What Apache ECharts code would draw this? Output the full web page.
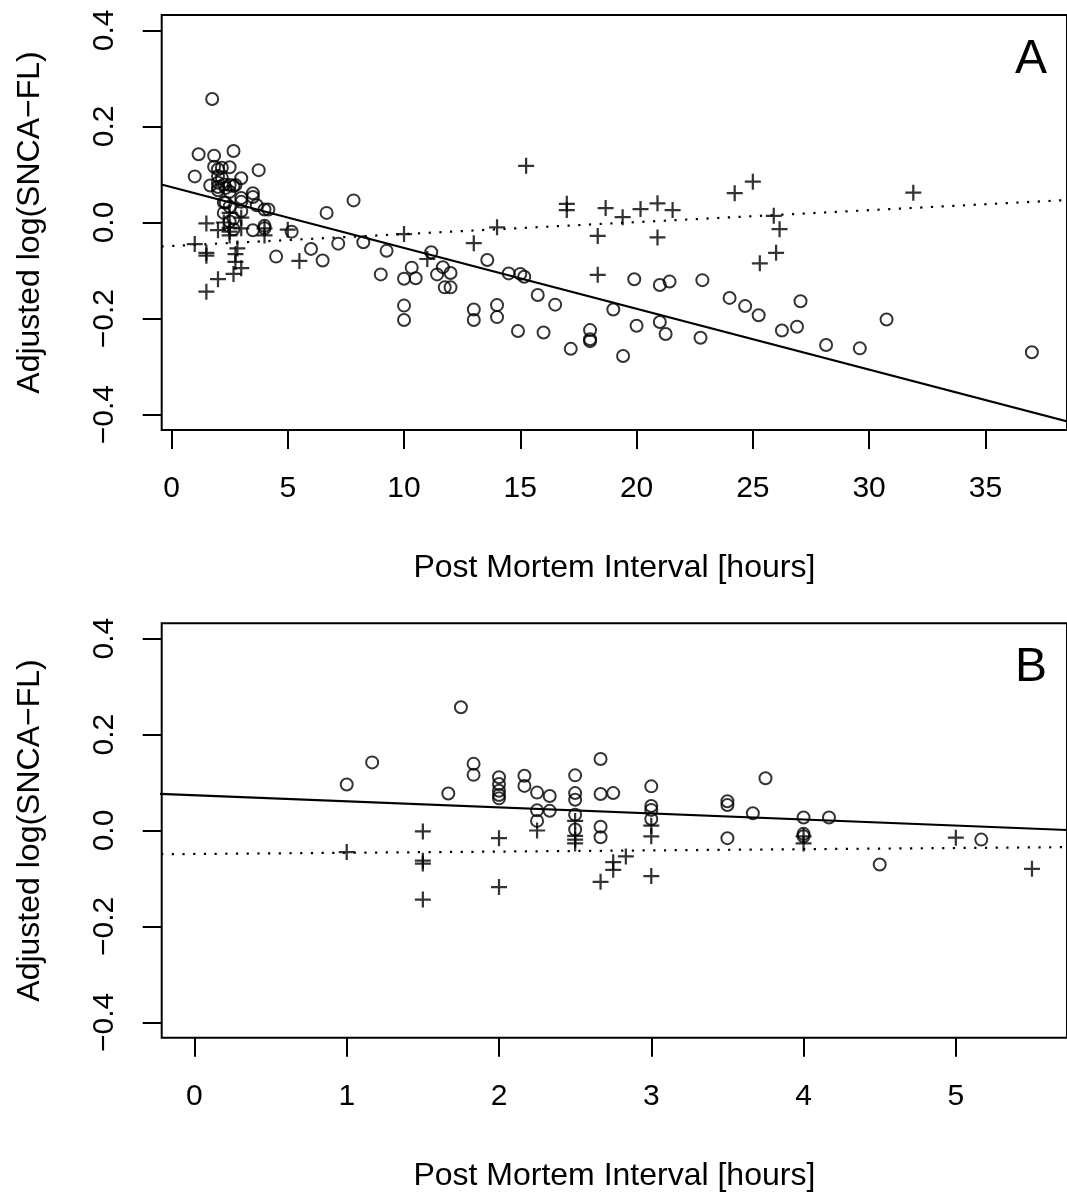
<!DOCTYPE html>
<html><head><meta charset="utf-8">
<script src="https://cdn.jsdelivr.net/npm/echarts@6/dist/echarts.min.js"></script>
<style>html,body{margin:0;padding:0;background:#fff}#c{width:1067px;height:1194px}</style>
</head><body><div id="c"></div>
<script>
// ---- data ----
const xTicksA = [0, 5, 10, 15, 20, 25, 30, 35];
const xTicksB = [0, 1, 2, 3, 4, 5];
const yTicks = [-0.4, -0.2, 0, 0.2, 0.4];
const panelLabels = ['A', 'B'];
const xTitle = 'Post Mortem Interval [hours]';
const yTitle = 'Adjusted log(SNCA\u2212FL)';

// group shown with open circles: [PMI hours, adjusted log value]
const circlePoints = [
  [1.0, 0.096], [1.167, 0.142], [1.667, 0.077], [1.75, 0.257], [1.833, 0.139], [1.833, 0.116],
  [2.0, 0.111], [2.0, 0.097], [2.0, 0.083], [2.0, 0.074], [2.0, 0.067],
  [2.167, 0.114], [2.167, 0.093],
  [2.25, 0.079], [2.25, 0.042], [2.25, 0.020],
  [2.333, 0.072], [2.333, 0.041],
  [2.5, 0.115], [2.5, 0.078], [2.5, 0.064], [2.5, 0.033], [2.5, 0.002],
  [2.667, 0.149], [2.667, 0.076], [2.667, 0.008], [2.667, -0.014],
  [2.75, 0.078],
  [3.0, 0.092], [3.0, 0.051], [3.0, 0.043], [3.0, 0.024],
  [3.5, 0.061], [3.5, 0.053], [3.5, -0.016],
  [3.667, 0.036], [3.75, 0.109],
  [4.0, 0.027], [4.0, -0.007], [4.0, -0.012],
  [4.167, 0.027], [4.5, -0.071], [5.167, -0.019],
  [6.0, -0.055], [6.5, -0.079], [6.67, 0.020], [7.17, -0.044], [7.83, 0.046], [8.25, -0.041],
  [9.0, -0.108], [9.25, -0.059], [10.0, -0.117], [10.0, -0.173], [10.0, -0.203], [10.33, -0.094],
  [10.5, -0.116], [11.17, -0.062], [11.42, -0.108], [11.67, -0.093], [11.75, -0.135], [12.0, -0.105],
  [12.0, -0.135], [13.0, -0.181], [13.0, -0.203], [13.58, -0.078], [14.0, -0.172], [14.0, -0.197],
  [14.5, -0.106], [15.0, -0.107], [15.17, -0.113], [14.9, -0.226], [15.75, -0.151], [16.0, -0.229],
  [16.5, -0.171], [17.17, -0.263], [18.0, -0.224], [18.0, -0.243], [18.0, -0.247], [19.0, -0.181],
  [19.42, -0.278], [19.9, -0.118], [20.0, -0.215], [21.0, -0.130], [21.42, -0.123], [21.0, -0.207],
  [21.25, -0.232], [22.83, -0.120], [22.75, -0.240], [24.0, -0.157], [24.67, -0.174], [25.25, -0.193],
  [26.25, -0.225], [26.9, -0.217], [27.05, -0.164], [28.15, -0.255], [29.6, -0.262], [30.75, -0.202],
  [37.0, -0.270]
];

// group shown with plus signs
const plusPoints = [
  [1.0, -0.045], [1.5, -0.002], [1.5, -0.063], [1.5, -0.069], [1.5, -0.144],
  [2.0, -0.016], [2.0, -0.118], [2.25, 0.0],
  [2.5, 0.020], [2.5, -0.011], [2.5, -0.019], [2.5, -0.027],
  [2.667, -0.107], [2.75, -0.066], [2.75, -0.082], [2.833, -0.054],
  [3.0, 0.010], [3.0, -0.012], [3.0, -0.095],
  [4.0, -0.012], [4.0, -0.027], [5.0, -0.015], [5.5, -0.080],
  [10.0, -0.024], [11.0, -0.076], [13.0, -0.043], [14.0, -0.010], [15.25, 0.118], [17.0, 0.039],
  [17.0, 0.026], [18.67, 0.030], [18.33, -0.028], [18.33, -0.109], [19.4, 0.011], [20.17, 0.028],
  [20.9, 0.040], [20.9, -0.031], [21.55, 0.026], [24.22, 0.061], [25.0, 0.085], [25.9, 0.014],
  [26.15, -0.014], [26.0, -0.063], [25.3, -0.085], [31.9, 0.062]
];

// fitted lines (end points)
const circleFit = [[-0.43, 0.079], [38.6, -0.415]];
const plusFit = [[-0.43, -0.050], [38.6, 0.047]];

// ---- chart ----
const FONT = "'Liberation Sans', Arial, Helvetica, sans-serif";
const chart = echarts.init(document.getElementById('c'), null, {renderer: 'canvas'});

const fmtY = v => (v < 0 ? '\u2212' : '') + Math.abs(v).toFixed(1);
const fmtX = v => String(v);

function xAxisCfg(gi, ticks, min, max) {
  return {
    gridIndex: gi, type: 'value', min: min, max: max,
    axisLine: {show: false, onZero: false},
    splitLine: {show: false},
    axisTick: {show: true, inside: false, length: 19, customValues: ticks, lineStyle: {color: '#000', width: 2}},
    axisLabel: {customValues: ticks, formatter: fmtX, margin: 44, fontSize: 30, color: '#000', fontFamily: FONT},
    name: xTitle, nameLocation: 'middle', nameGap: 122,
    nameTextStyle: {fontSize: 32, color: '#000', fontFamily: FONT}
  };
}
function yAxisCfg(gi) {
  return {
    gridIndex: gi, type: 'value', min: -0.432, max: 0.432,
    axisLine: {show: false, onZero: false},
    splitLine: {show: false},
    axisTick: {show: true, inside: false, length: 19, customValues: yTicks, lineStyle: {color: '#000', width: 2}},
    axisLabel: {customValues: yTicks, formatter: fmtY, rotate: 90, margin: 42, fontSize: 30, color: '#000', fontFamily: FONT},
    name: yTitle, nameLocation: 'middle', nameGap: 116, nameRotate: 90,
    nameTextStyle: {fontSize: 32, color: '#000', fontFamily: FONT}
  };
}

const circleStyle = {color: 'rgba(0,0,0,0)', borderColor: '#000', borderWidth: 2};
const plusSymbol = 'path://M0,4.3H10V5.7H0Z M4.3,0H5.7V10H4.3Z';

function panelSeries(gi, xmax) {
  const circ = circlePoints.filter(p => p[0] <= xmax);
  const plus = plusPoints.filter(p => p[0] <= xmax);
  return [
    {type: 'scatter', xAxisIndex: gi, yAxisIndex: gi, data: circ, symbol: 'circle', symbolSize: 12,
     itemStyle: circleStyle, silent: true, z: 3},
    {type: 'scatter', xAxisIndex: gi, yAxisIndex: gi, data: plus, symbol: plusSymbol, symbolSize: 16,
     itemStyle: {color: '#000'}, silent: true, z: 3},
    {type: 'line', xAxisIndex: gi, yAxisIndex: gi, data: circleFit, symbol: 'none', clip: true,
     lineStyle: {color: '#000', width: 2.2}, silent: true, z: 2},
    {type: 'line', xAxisIndex: gi, yAxisIndex: gi, data: plusFit, symbol: 'none', clip: true,
     lineStyle: {color: '#000', width: 2.2, type: [2.2, 8.5]}, silent: true, z: 2}
  ];
}

const xA = [-0.421, 38.51];
const xB = [-0.215, 5.73];

chart.setOption({
  animation: false,
  backgroundColor: '#fff',
  grid: [
    {left: 161.7, top: 15, width: 915.3, height: 415, show: true, borderColor: '#000', borderWidth: 2, backgroundColor: 'transparent'},
    {left: 161.7, top: 623.3, width: 915.3, height: 414.4, show: true, borderColor: '#000', borderWidth: 2, backgroundColor: 'transparent'}
  ],
  xAxis: [xAxisCfg(0, xTicksA, xA[0], xA[1]), xAxisCfg(1, xTicksB, xB[0], xB[1])],
  yAxis: [yAxisCfg(0), yAxisCfg(1)],
  graphic: [
    {type: 'text', x: 1031, y: 60, style: {text: panelLabels[0], fontSize: 48, fontFamily: FONT, fill: '#000',
      align: 'center', verticalAlign: 'middle', textAlign: 'center', textVerticalAlign: 'middle'}},
    {type: 'text', x: 1031, y: 668, style: {text: panelLabels[1], fontSize: 48, fontFamily: FONT, fill: '#000',
      align: 'center', verticalAlign: 'middle', textAlign: 'center', textVerticalAlign: 'middle'}}
  ],
  series: panelSeries(0, xA[1]).concat(panelSeries(1, xB[1]))
});
</script></body></html>
